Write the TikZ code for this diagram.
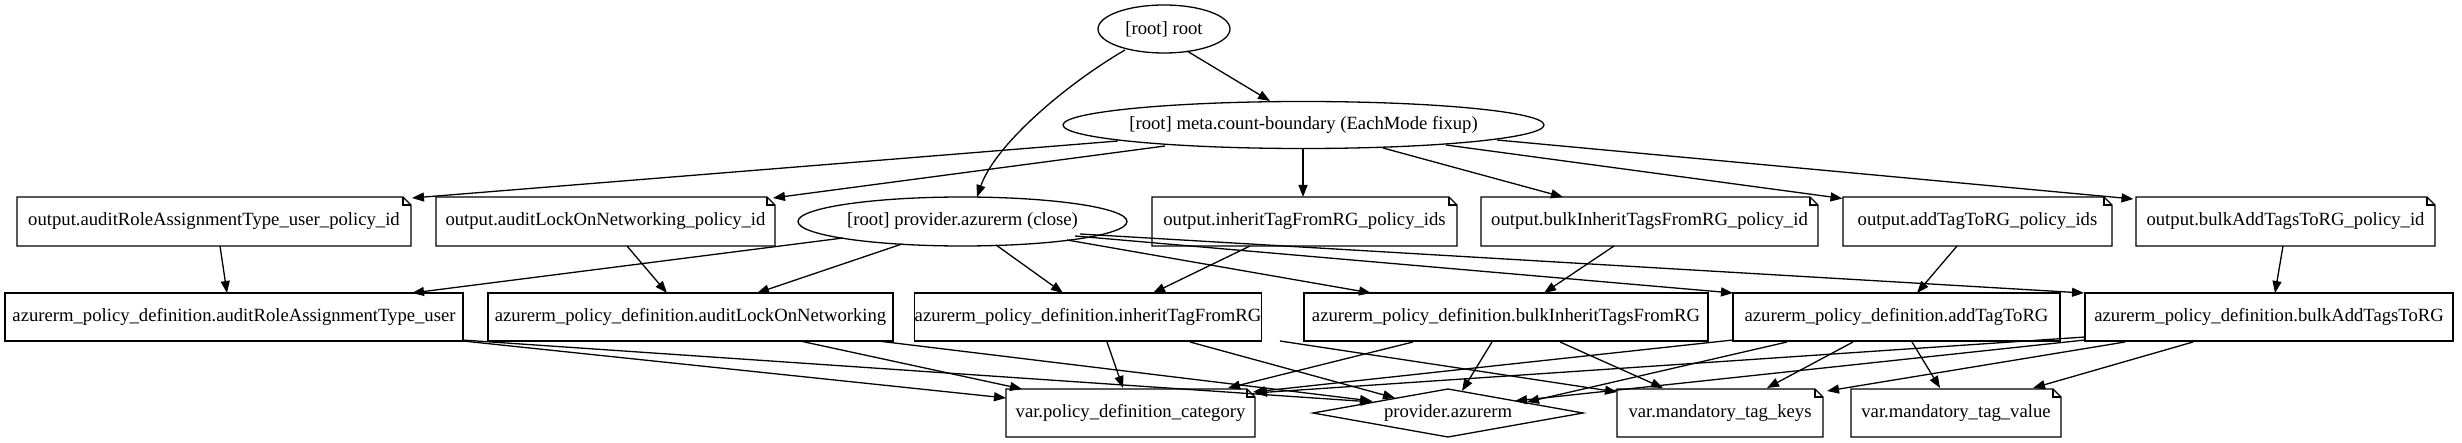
\documentclass[tikz,border=0pt]{standalone}
\usepackage{fontspec}
\setmainfont{Liberation Serif}
\usetikzlibrary{arrows.meta,calc}
\newcommand\mynote[1]{%
  \draw (#1.south west) -- (#1.south east) -- ($(#1.north east)+(0,8)$) -- ($(#1.north east)+(-8,0)$) -- (#1.north west) -- cycle;
  \draw ($(#1.north east)+(-8,0)$) -- ($(#1.north east)+(-8,8)$) -- ($(#1.north east)+(0,8)$);}
\newcommand\mybox[1]{\draw (#1.south west) rectangle (#1.north east);}
\newcommand\myedge[4]{\draw[edge] ($(#1)+(#2)$) -- ($(#3)+(#4)$);}
\begin{document}
\begin{tikzpicture}[x=1pt,y=-1pt,line width=1.3pt,
  every node/.style={inner sep=0pt, outer sep=0pt, font=\fontsize{18.67pt}{22pt}\selectfont, text=black},
  plainnode/.style={minimum height=48pt},
  edge/.style={-{Triangle[length=12pt,width=9pt]}}]
\useasboundingbox[fill=white] (0,0) rectangle (2462,443);

% row 1
\node[plainnode, minimum width=132pt] (root) at (1164,29) {[root] root};
\draw (root) ellipse [x radius=66pt, y radius=24pt];
\node[plainnode, minimum width=481pt] (meta) at (1303.5,125) {[root] meta.count-boundary (EachMode fixup)};
\draw (meta) ellipse [x radius=240.5pt, y radius=23.5pt];

% row 2
\node[plainnode, minimum height=49pt, minimum width=394pt] (oRole) at (214,221.5) {output.auditRoleAssignmentType\_user\_policy\_id};
\node[plainnode, minimum height=49pt, minimum width=339pt] (oLock) at (605.5,221.5) {output.auditLockOnNetworking\_policy\_id};
\node[plainnode, minimum height=49pt, minimum width=329pt] (pclose) at (962.5,221.5) {[root] provider.azurerm (close)};
\draw (pclose) ellipse [x radius=164.5pt, y radius=24.5pt];
\node[plainnode, minimum height=49pt, minimum width=305pt] (oInh) at (1304.5,221.5) {output.inheritTagFromRG\_policy\_ids};
\node[plainnode, minimum height=49pt, minimum width=337pt] (oBInh) at (1649.5,221.5) {output.bulkInheritTagsFromRG\_policy\_id};
\node[plainnode, minimum height=49pt, minimum width=269pt] (oAdd) at (1977.5,221.5) {output.addTagToRG\_policy\_ids};
\node[plainnode, minimum height=49pt, minimum width=299pt] (oBAdd) at (2285.5,221.5) {output.bulkAddTagsToRG\_policy\_id};
\foreach \n in {oRole,oLock,oInh,oBInh,oAdd,oBAdd}{\mynote{\n}}

% row 3
\node[plainnode, minimum width=458pt] (dRole) at (234,317) {azurerm\_policy\_definition.auditRoleAssignmentType\_user};
\node[plainnode, minimum width=405pt] (dLock) at (690.5,317) {azurerm\_policy\_definition.auditLockOnNetworking};
\node[plainnode, minimum width=340pt] (dInh) at (1088,317) {azurerm\_policy\_definition.inheritTagFromRG};
\node[plainnode, minimum width=404pt] (dBInh) at (1506,317) {azurerm\_policy\_definition.bulkInheritTagsFromRG};
\node[plainnode, minimum width=327pt] (dAdd) at (1896.5,317) {azurerm\_policy\_definition.addTagToRG};
\node[plainnode, minimum width=368pt] (dBAdd) at (2269,317) {azurerm\_policy\_definition.bulkAddTagsToRG};
\foreach \n in {dRole,dLock,dInh,dBInh,dAdd,dBAdd}{\mybox{\n}}

% row 4
\node[plainnode, minimum width=249pt] (vCat) at (1130.5,413) {var.policy\_definition\_category};
\node[plainnode, minimum width=270pt] (prov) at (1448,413) {provider.azurerm};
\draw (prov.west) -- (prov.north) -- (prov.east) -- (prov.south) -- cycle;
\node[plainnode, minimum width=206pt] (vKeys) at (1720,413) {var.mandatory\_tag\_keys};
\node[plainnode, minimum width=210pt] (vVal) at (1956,413) {var.mandatory\_tag\_value};
\foreach \n in {vCat,vKeys,vVal}{\mynote{\n}}

% edges from root
\myedge{root}{23,22}{meta}{-33.5,-24}
\draw[edge] ($(root)+(-39,21)$) .. controls ($(root)+(-99,56)$) and ($(pclose)+(32.5,-76.5)$) .. ($(pclose)+(14.5,-24.5)$);

% edges from meta
\myedge{meta}{-185.5,16}{oRole}{198,-23.5}
\myedge{meta}{-138.5,21}{oLock}{167.5,-23.5}
\myedge{meta}{-0.5,23}{oInh}{-1.5,-24.5}
\myedge{meta}{79.5,23}{oBInh}{-86.5,-24.5}
\myedge{meta}{142.5,20}{oAdd}{-135,-23}
\myedge{meta}{193.5,15}{oBAdd}{-152,-22.5}

% outputs to definitions
\myedge{oRole}{6,24.5}{dRole}{-7,-24}
\myedge{oLock}{21.5,24.5}{dLock}{-23.5,-24}
\myedge{oInh}{-54.5,24.5}{dInh}{65,-24}
\myedge{oBInh}{-35.5,24.5}{dBInh}{38,-24}
\myedge{oAdd}{-20.5,24.5}{dAdd}{20.5,-24}
\myedge{oBAdd}{-2.5,24.5}{dBAdd}{6,-24}

% provider close to definitions
\myedge{pclose}{-119.5,16.5}{dRole}{178,-24}
\myedge{pclose}{-60.5,22.5}{dLock}{66.5,-24}
\myedge{pclose}{33.5,23.5}{dInh}{-25,-24}
\myedge{pclose}{104.5,18.5}{dBInh}{-135,-24}
\myedge{pclose}{112.5,14.5}{dAdd}{-163.5,-24}
\myedge{pclose}{117.5,12.5}{dBAdd}{-185,-24}

% definitions to row 4
\myedge{dRole}{229,24}{vCat}{-124.5,-15}
\myedge{dRole}{228,23}{prov}{-75,-11}
\myedge{dLock}{109.5,24}{vCat}{-108.5,-24}
\myedge{dLock}{187.5,24}{prov}{-76,-12}
\myedge{dInh}{19,25}{vCat}{-7.5,-25}
\myedge{dInh}{102,25}{prov}{-53,-15}
\myedge{dInh}{192,24}{vKeys}{-103,-21}
\myedge{dBInh}{-93,25}{vCat}{97.5,-25}
\myedge{dBInh}{-14,25}{prov}{14,-22}
\myedge{dBInh}{54,25}{vKeys}{-57,-25}
\myedge{dAdd}{-163.5,23}{vCat}{122.5,-21}
\myedge{dAdd}{-109.5,25}{prov}{79,-11}
\myedge{dAdd}{-43.5,25}{vKeys}{47,-25}
\myedge{dAdd}{15.5,25}{vVal}{-16,-25}
\myedge{dBAdd}{-184,20}{vCat}{124.5,-20}
\myedge{dBAdd}{-184,23}{prov}{67,-12}
\myedge{dBAdd}{-144,25}{vKeys}{107,-22}
\myedge{dBAdd}{-76,25}{vVal}{77,-25}
\end{tikzpicture}
\end{document}
